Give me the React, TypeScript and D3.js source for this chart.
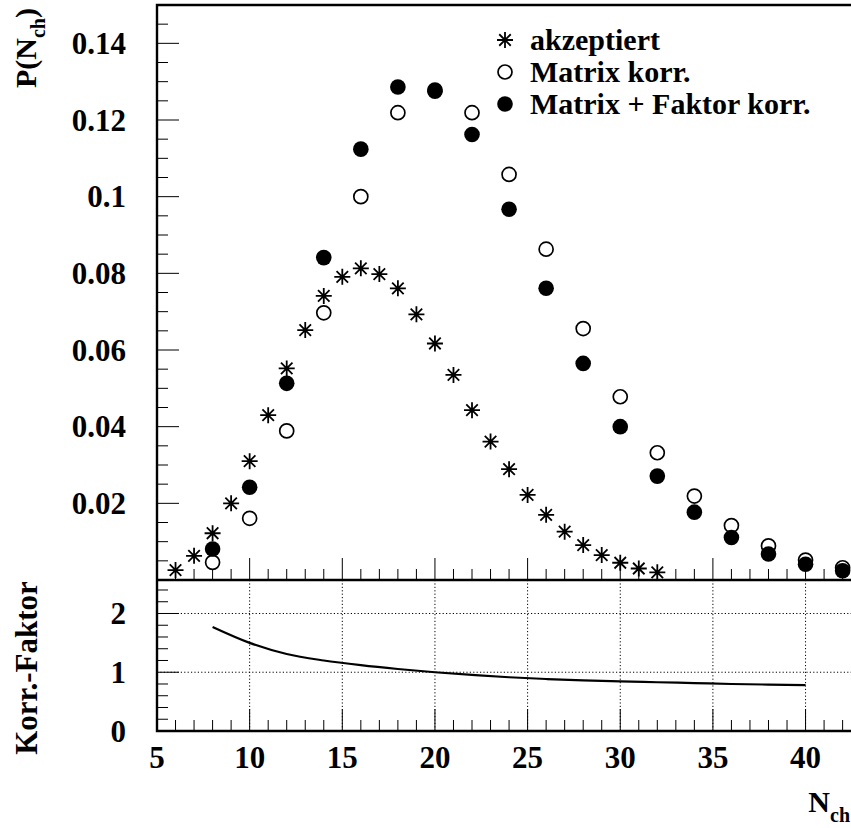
import React from "react";
import * as d3 from "d3";

// ---------- data ----------
const nAccepted = [6, 7, 8, 9, 10, 11, 12, 13, 14, 15, 16, 17, 18, 19, 20, 21, 22, 23, 24, 25, 26, 27, 28, 29, 30, 31, 32];
const accepted = [0.0026, 0.0063, 0.0122, 0.02, 0.031, 0.043, 0.0552, 0.0652, 0.0741, 0.0791, 0.0813, 0.0798, 0.0761, 0.0693, 0.0617, 0.0535, 0.0443, 0.0361, 0.0289, 0.0222, 0.017, 0.0126, 0.0091, 0.0065, 0.0045, 0.003, 0.002];

const nCorrected = [8, 10, 12, 14, 16, 18, 20, 22, 24, 26, 28, 30, 32, 34, 36, 38, 40, 42];
const matrixCorr = [0.0046, 0.0161, 0.0389, 0.0697, 0.1, 0.1219, 0.1278, 0.1219, 0.1058, 0.0863, 0.0656, 0.0478, 0.0332, 0.0219, 0.0142, 0.0089, 0.0052, 0.0032];
const matrixFaktorCorr = [0.0081, 0.0242, 0.0513, 0.0841, 0.1124, 0.1286, 0.1275, 0.1162, 0.0967, 0.0761, 0.0565, 0.04, 0.0271, 0.0177, 0.0111, 0.0068, 0.0041, 0.0024];

const nFactor = [8, 10, 12, 14, 16, 18, 20, 22, 24, 26, 28, 30, 32, 34, 36, 38, 40];
const korrFaktor = [1.77, 1.5, 1.31, 1.2, 1.12, 1.055, 1.0, 0.955, 0.915, 0.885, 0.86, 0.843, 0.83, 0.815, 0.8, 0.79, 0.78];

const xTickLabels = [5, 10, 15, 20, 25, 30, 35, 40];
const yTopTickLabels = [0.02, 0.04, 0.06, 0.08, 0.1, 0.12, 0.14];
const yBottomTickLabels = [0, 1, 2];
const legendLabels = ["akzeptiert", "Matrix korr.", "Matrix + Faktor korr."];

// ---------- layout ----------
const W = 851;
const H = 828;
const L = 157;
const TOP = 5;
const MID = 580;
const BOT = 731;
const FONT = "'Liberation Serif', 'Times New Roman', serif";

const x = d3.scaleLinear().domain([5, 42.5]).range([L, L + 37.5 * 18.53]);
const yTop = d3.scaleLinear().domain([0, 0.15]).range([MID, TOP]);
const yBot = d3.scaleLinear().domain([0, 2.57]).range([BOT, MID]);

const RIGHT = x(42.5) + 5;

function Star({ cx, cy, s = 8 }: { cx: number; cy: number; s?: number }) {
  const d = s * 0.72;
  return (
    <path
      d={`M${cx - s},${cy}L${cx + s},${cy}M${cx},${cy - s}L${cx},${cy + s}M${cx - d},${cy - d}L${cx + d},${cy + d}M${cx - d},${cy + d}L${cx + d},${cy - d}`}
      stroke="#000"
      strokeWidth={1.8}
      fill="none"
    />
  );
}

export default function App() {
  const xMinor = d3.range(5, 43, 1);
  const yTopMinor = d3.range(0, 0.1501, 0.005);
  const yBotMinor = d3.range(0, 2.57, 0.2);
  const isMajorX = (v: number) => Math.abs(v % 5) < 1e-6;
  const isMajorTop = (v: number) => Math.abs(Math.round(v / 0.02) * 0.02 - v) < 1e-6;
  const isMajorBot = (v: number) => Math.abs(Math.round(v) - v) < 1e-6;

  const line = d3
    .line<number>()
    .x((_, i) => x(nFactor[i]))
    .y((v) => yBot(v))
    .curve(d3.curveMonotoneX);

  const legendX = 505;
  const legendY = [40, 72, 104];

  return (
    <svg
      width={W}
      height={H}
      style={{ position: "absolute", left: 0, top: 0, background: "#fff" }}
      fontFamily={FONT}
      fontWeight="bold"
    >
      <rect x={0} y={0} width={W} height={H} fill="#fff" />

      {/* grid in bottom panel */}
      <g stroke="#000" strokeWidth={1} strokeDasharray="1.2,2.2">
        {xTickLabels.filter((v) => v > 5).map((v) => (
          <line key={"gx" + v} x1={x(v)} x2={x(v)} y1={MID} y2={BOT} />
        ))}
        {[1, 2].map((v) => (
          <line key={"gy" + v} x1={L} x2={RIGHT} y1={yBot(v)} y2={yBot(v)} />
        ))}
      </g>

      {/* ticks */}
      <g stroke="#000" strokeWidth={1}>
        {xMinor.map((v) => (
          <line key={"tt" + v} x1={x(v)} x2={x(v)} y1={MID} y2={MID - (isMajorX(v) ? 22 : 11)} />
        ))}
        {xMinor.map((v) => (
          <line key={"tb" + v} x1={x(v)} x2={x(v)} y1={BOT} y2={BOT - (isMajorX(v) ? 22 : 11)} />
        ))}
        {yTopMinor.map((v) => (
          <line key={"yt" + v} x1={L} x2={L + (isMajorTop(v) ? 22 : 11)} y1={yTop(v)} y2={yTop(v)} />
        ))}
        {yBotMinor.map((v) => (
          <line key={"yb" + v} x1={L} x2={L + (isMajorBot(v) ? 22 : 11)} y1={yBot(v)} y2={yBot(v)} />
        ))}
      </g>

      {/* frames */}
      <g stroke="#000" strokeWidth={2.4} fill="none">
        <path d={`M${RIGHT},${TOP}L${L},${TOP}L${L},${BOT}L${RIGHT},${BOT}`} />
        <line x1={L} x2={RIGHT} y1={MID} y2={MID} />
      </g>

      {/* correction factor curve */}
      <path d={line(korrFaktor) || ""} fill="none" stroke="#000" strokeWidth={2.2} />

      {/* data points */}
      {accepted.map((v, i) => (
        <Star key={"s" + i} cx={x(nAccepted[i])} cy={yTop(v)} />
      ))}
      {matrixCorr.map((v, i) => (
        <circle key={"o" + i} cx={x(nCorrected[i])} cy={yTop(v)} r={7} fill="none" stroke="#000" strokeWidth={1.7} />
      ))}
      {matrixFaktorCorr.map((v, i) => (
        <circle key={"f" + i} cx={x(nCorrected[i])} cy={yTop(v)} r={7.8} fill="#000" />
      ))}

      {/* legend */}
      <Star cx={legendX} cy={legendY[0]} />
      <circle cx={legendX} cy={legendY[1]} r={7} fill="none" stroke="#000" strokeWidth={1.7} />
      <circle cx={legendX} cy={legendY[2]} r={7.8} fill="#000" />
      {legendLabels.map((t, i) => (
        <text key={"lg" + i} x={530} y={legendY[i] + 10} fontSize={30}>
          {t}
        </text>
      ))}

      {/* tick labels */}
      {yTopTickLabels.map((v) => (
        <text key={"lt" + v} x={126} y={yTop(v)} dy="0.34em" textAnchor="end" fontSize={31}>
          {String(v)}
        </text>
      ))}
      {yBottomTickLabels.map((v) => (
        <text key={"lb" + v} x={126} y={yBot(v)} dy="0.34em" textAnchor="end" fontSize={31}>
          {String(v)}
        </text>
      ))}
      {xTickLabels.map((v) => (
        <text key={"lx" + v} x={x(v)} y={768} textAnchor="middle" fontSize={31}>
          {String(v)}
        </text>
      ))}

      {/* axis titles */}
      <text transform="translate(36,88) rotate(-90)" fontSize={30}>
        P(N
        <tspan fontSize={20} dy={9}>ch</tspan>
        <tspan dy={-9}>)</tspan>
      </text>
      <text transform="translate(37,668) rotate(-90)" textAnchor="middle" fontSize={31}>
        Korr.-Faktor
      </text>
      <text x={850} y={812} textAnchor="end" fontSize={30}>
        N<tspan fontSize={20} dy={10}>ch</tspan>
      </text>
    </svg>
  );
}
